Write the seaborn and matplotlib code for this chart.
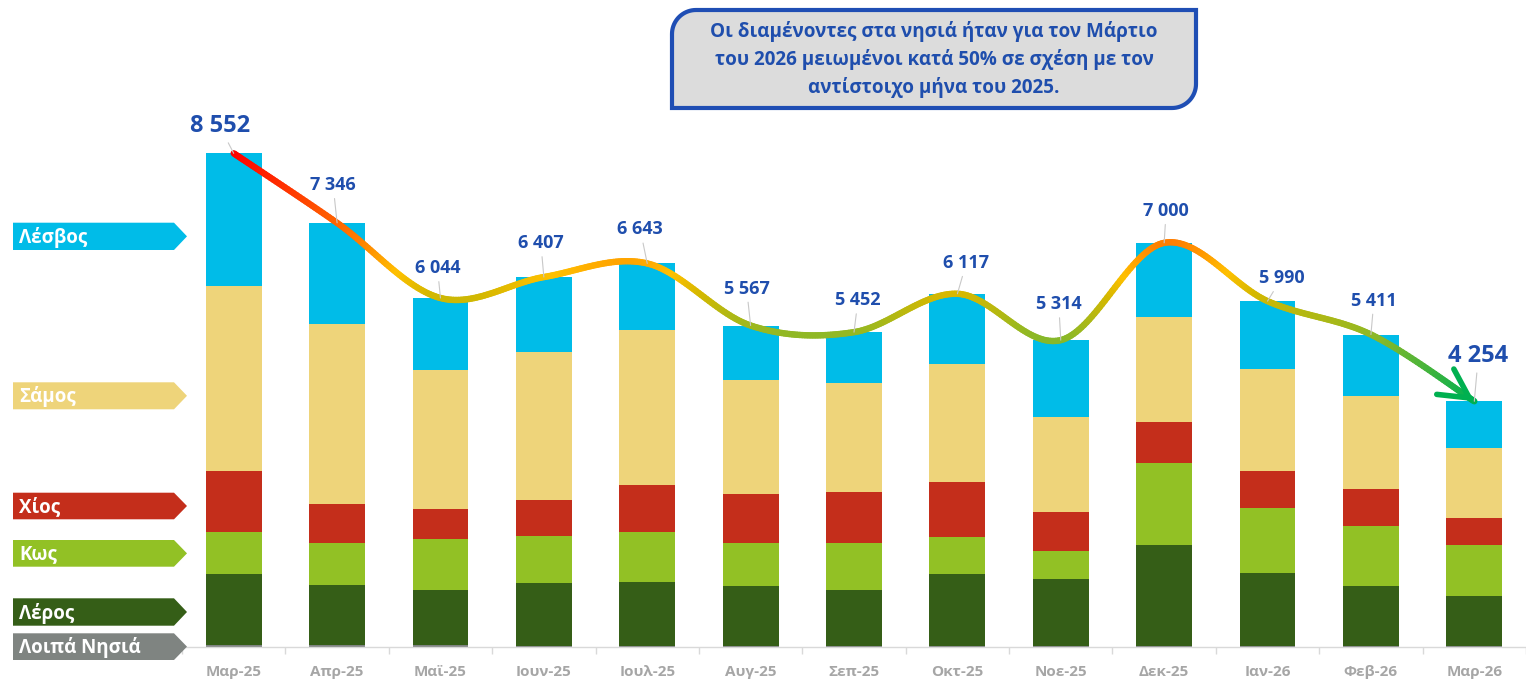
import numpy as np
import pandas as pd
import seaborn as sns
import matplotlib
matplotlib.use('Agg')
import matplotlib.pyplot as plt
from matplotlib.collections import LineCollection
from matplotlib.colors import LinearSegmentedColormap, Normalize
from matplotlib.patches import Polygon

# data
months = ['Μαρ-25', 'Απρ-25', 'Μαϊ-25', 'Ιουν-25', 'Ιουλ-25', 'Αυγ-25', 'Σεπ-25',
          'Οκτ-25', 'Νοε-25', 'Δεκ-25', 'Ιαν-26', 'Φεβ-26', 'Μαρ-26']
others = [30, 25, 29, 20, 20, 20, 20, 20, 20, 20, 20, 20, 20]
leros = [1236, 1047, 954, 1089, 1096, 1038, 966, 1245, 1158, 1747, 1262, 1037, 864]
kos = [728, 723, 889, 804, 865, 740, 804, 641, 485, 1416, 1126, 1035, 879]
chios = [1057, 676, 515, 629, 820, 854, 889, 953, 667, 716, 641, 646, 463]
samos = [3201, 3114, 2402, 2565, 2686, 1970, 1894, 2040, 1650, 1813, 1757, 1605, 1213]
lesvos = [2300, 1761, 1255, 1300, 1156, 945, 879, 1218, 1334, 1288, 1184, 1068, 815]

series_names = ['Λοιπά Νησιά', 'Λέρος', 'Κως', 'Χίος', 'Σάμος', 'Λέσβος']
series_vals = [others, leros, kos, chios, samos, lesvos]
totals = np.sum(series_vals, axis=0)

note = ['Οι διαμένοντες στα νησιά ήταν για τον Μάρτιο',
        'του 2026 μειωμένοι κατά 50% σε σχέση με τον',
        'αντίστοιχο μήνα του 2025.']

# styling
colors = {'Λοιπά Νησιά': '#7F8481', 'Λέρος': '#355E17', 'Κως': '#92C125',
          'Χίος': '#C42E1B', 'Σάμος': '#EED47A', 'Λέσβος': '#00BCE8'}
blue = '#1F4EAD'
label_offsets = [(-14, 27), (-4, 38), (-3, 30), (-3, 34), (-7, 34), (-4, 37), (4, 32),
                 (9, 31), (-2, 36), (2, 32), (14, 23), (3, 34), (4, 45)]

sns.set_theme(style='white')
plt.rcParams['font.family'] = ['Open Sans', 'DejaVu Sans']

W, H = 1526, 688
fig = plt.figure(figsize=(W / 100, H / 100), dpi=100)
ax = fig.add_axes([182 / W, (H - 646.7) / H, 1344 / W, 576.95 / H])

df = pd.DataFrame(dict(zip(series_names, series_vals)))
df['month'] = months
cum = df[series_names].cumsum(axis=1)

# stacked bars: draw cumulative heights from the top layer down
for name in series_names[::-1]:
    sns.barplot(x=df['month'], y=cum[name], color=colors[name], width=0.54,
                saturation=1, linewidth=0, ax=ax, zorder=2)

ax.set_xlim(-0.5, 12.5)
ax.set_ylim(0, 10000)
ax.set_xlabel('')
ax.set_ylabel('')
ax.set_yticks([])
for s in ['top', 'left', 'right']:
    ax.spines[s].set_visible(False)
ax.spines['bottom'].set_color('#D9D9D9')
ax.spines['bottom'].set_linewidth(1)
ax.set_xticks(range(len(months)))
ax.set_xticklabels(months, color='#A6A6A6', fontweight='bold', fontsize=11)
ax.tick_params(axis='x', which='major', length=0, pad=13)
ax.set_xticks(np.arange(-0.5, 12.6, 1), minor=True)
ax.tick_params(axis='x', which='minor', length=5, color='#D9D9D9', width=1, bottom=True)


# smoothed trend line through the totals (Catmull-Rom, like Excel's smoothing)
def smooth(xs, ys, n=40):
    P = np.column_stack([xs, ys]).astype(float)
    P = np.vstack([P[0], P, P[-1]])
    out = []
    t = np.linspace(0, 1, n, endpoint=False)[:, None]
    for i in range(1, len(P) - 2):
        p0, p1, p2, p3 = P[i - 1], P[i], P[i + 1], P[i + 2]
        out.append(0.5 * (2 * p1 + (-p0 + p2) * t + (2 * p0 - 5 * p1 + 4 * p2 - p3) * t ** 2
                          + (-p0 + 3 * p1 - 3 * p2 + p3) * t ** 3))
    out.append(P[-2][None])
    return np.vstack(out)


pts = smooth(np.arange(len(months)), totals)
stops = [(4254, '#00B050'), (5300, '#86B82A'), (6100, '#D6B800'),
         (6450, '#FFC000'), (7000, '#FF8000'), (8552, '#FF0000')]
lo, hi = stops[0][0], stops[-1][0]
cmap = LinearSegmentedColormap.from_list('trend', [((v - lo) / (hi - lo), c) for v, c in stops])
segs = np.stack([pts[:-1], pts[1:]], axis=1)
lc = LineCollection(segs, cmap=cmap, norm=Normalize(lo, hi), linewidths=4.6,
                    capstyle='round', joinstyle='round', zorder=4)
lc.set_array((pts[:-1, 1] + pts[1:, 1]) / 2)
ax.add_collection(lc)
ax.annotate('', xy=pts[-1], xytext=pts[-6],
            arrowprops=dict(arrowstyle='->,head_length=0.95,head_width=0.5', color='#00B050',
                            lw=4, mutation_scale=22, shrinkA=0, shrinkB=0), zorder=5)

# value labels with leader lines
for i, tot in enumerate(totals):
    big = i in (0, len(totals) - 1)
    ax.annotate(f'{tot:,}'.replace(',', ' '), xy=(i, tot), xytext=label_offsets[i],
                textcoords='offset pixels', ha='center', va='center', color=blue,
                fontweight='bold', fontsize=17 if big else 13, zorder=6,
                arrowprops=dict(arrowstyle='-', color='#C8C8C8', lw=0.8, shrinkA=1, shrinkB=0))


def px(x, y):
    return (x / W, 1 - y / H)


# series tags on the left
tags = [('Λέσβος', 222.7, 250), ('Σάμος', 382.3, 409.3), ('Χίος', 492.7, 519.3),
        ('Κως', 540, 566.7), ('Λέρος', 598.3, 625.7), ('Λοιπά Νησιά', 633.3, 660)]
for name, y0, y1 in tags:
    ym = (y0 + y1) / 2
    fig.add_artist(Polygon([px(13, y0), px(174, y0), px(187, ym), px(174, y1), px(13, y1)],
                           closed=True, transform=fig.transFigure,
                           facecolor=colors[name], edgecolor='none'))
    fig.text(19 / W, 1 - (ym + 1) / H, name, color='white', fontweight='bold',
             fontsize=13.5, ha='left', va='center')

# note box with two rounded diagonal corners
x0, x1, y0, y1, r = 672, 1196, 10, 108, 24
a1 = np.linspace(0, np.pi / 2, 20)
a2 = np.linspace(np.pi, 1.5 * np.pi, 20)
verts = [(x0 + r, y0), (x1, y0), (x1, y1 - r)]
verts += [(x1 - r + r * np.cos(a), y1 - r + r * np.sin(a)) for a in a1]
verts += [(x0, y1), (x0, y0 + r)]
verts += [(x0 + r + r * np.cos(a), y0 + r + r * np.sin(a)) for a in a2]
fig.add_artist(Polygon([px(x, y) for x, y in verts], closed=True, transform=fig.transFigure,
                       facecolor='#DCDCDC', edgecolor='#1F4EB4', linewidth=3))
for k, line in enumerate(note):
    fig.text(934 / W, 1 - (31 + 28.5 * k) / H, line, ha='center', va='center',
             color=blue, fontweight='bold', fontsize=13.6)

fig.savefig('out.png', dpi=100)
